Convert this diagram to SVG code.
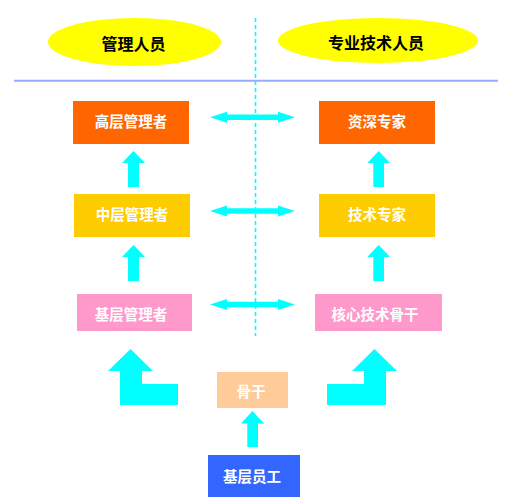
<svg xmlns="http://www.w3.org/2000/svg" width="513" height="504" viewBox="0 0 513 504">
<style>
.t{font-family:"Noto Sans CJK SC","Liberation Sans",sans-serif;font-weight:bold;text-anchor:middle;dominant-baseline:central}
.w{fill:#fff;font-size:14.5px}
.h{fill:#000;font-size:16px}
.ar{fill:#00FFFF}
</style>
<rect width="513" height="504" fill="#fff"/>
<line x1="255.5" y1="18" x2="255.5" y2="336" stroke="#00FFFF" stroke-width="1.6" stroke-dasharray="4,3"/>
<line x1="14" y1="80.7" x2="498" y2="80.7" stroke="#99AAFF" stroke-width="2"/>
<g id="hdr-mgmt"><ellipse cx="134.5" cy="42" rx="86.5" ry="24" fill="#FFFF00"/><text class="t h" x="133.5" y="43">管理人员</text></g>
<g id="hdr-tech"><ellipse cx="378" cy="40.5" rx="100" ry="22.5" fill="#FFFF00"/><text class="t h" x="376" y="42">专业技术人员</text></g>
<g id="n-gaoceng"><rect x="73" y="101" width="116" height="43" fill="#FF6600"/><text class="t w" x="131" y="120">高层管理者</text></g>
<g id="n-zishen"><rect x="319" y="101" width="116" height="43" fill="#FF6600"/><text class="t w" x="377" y="120">资深专家</text></g>
<g id="n-zhongceng"><rect x="74" y="194" width="116" height="43" fill="#FFCC00"/><text class="t w" x="132" y="213">中层管理者</text></g>
<g id="n-jishu"><rect x="319" y="194" width="116" height="43" fill="#FFCC00"/><text class="t w" x="377" y="213">技术专家</text></g>
<g id="n-jiceng"><rect x="77" y="294" width="115" height="37" fill="#FF99CC"/><text class="t w" x="131" y="313">基层管理者</text></g>
<g id="n-hexin"><rect x="315" y="294" width="127" height="37" fill="#FF99CC"/><text class="t w" x="375" y="313">核心技术骨干</text></g>
<g id="n-gugan"><rect x="217" y="372" width="71" height="36" fill="#FFCC99"/><text class="t w" x="251" y="390">骨干</text></g>
<g id="n-yuangong"><rect x="208" y="455" width="92" height="42" fill="#3366FF"/><text class="t w" x="252" y="475">基层员工</text></g>
<g id="connectors" class="ar">
<polygon points="210,117.3 227,111.8 227,114.5 278,114.5 278,111.8 295,117.3 278,122.8 278,120.1 227,120.1 227,122.8"/>
<polygon points="210,211 227,205.5 227,208.2 278,208.2 278,205.5 295,211 278,216.5 278,213.8 227,213.8 227,216.5"/>
<polygon points="210,304.5 227,299 227,301.7 278,301.7 278,299 295,304.5 278,310 278,307.3 227,307.3 227,310"/>
<polygon points="133.5,151 145,163 139,163 139,187 128,187 128,163 122,163"/>
<polygon points="133.5,245 145,257 139,257 139,281 128,281 128,257 122,257"/>
<polygon points="378.7,151 390,163 384,163 384,187 373.3,187 373.3,163 367.3,163"/>
<polygon points="378.7,245 390,257 384,257 384,281 373.3,281 373.3,257 367.3,257"/>
<polygon points="130.5,349 153,371 142,371 142,384 178,384 178,405 120,405 120,371 108,371"/>
<polygon points="374.5,349 397,371 386,371 386,405 327,405 327,384 364,384 364,371 352,371"/>
<polygon points="252.5,411 264,423.5 258,423.5 258,447 247.3,447 247.3,423.5 241,423.5"/>
</g>
</svg>
